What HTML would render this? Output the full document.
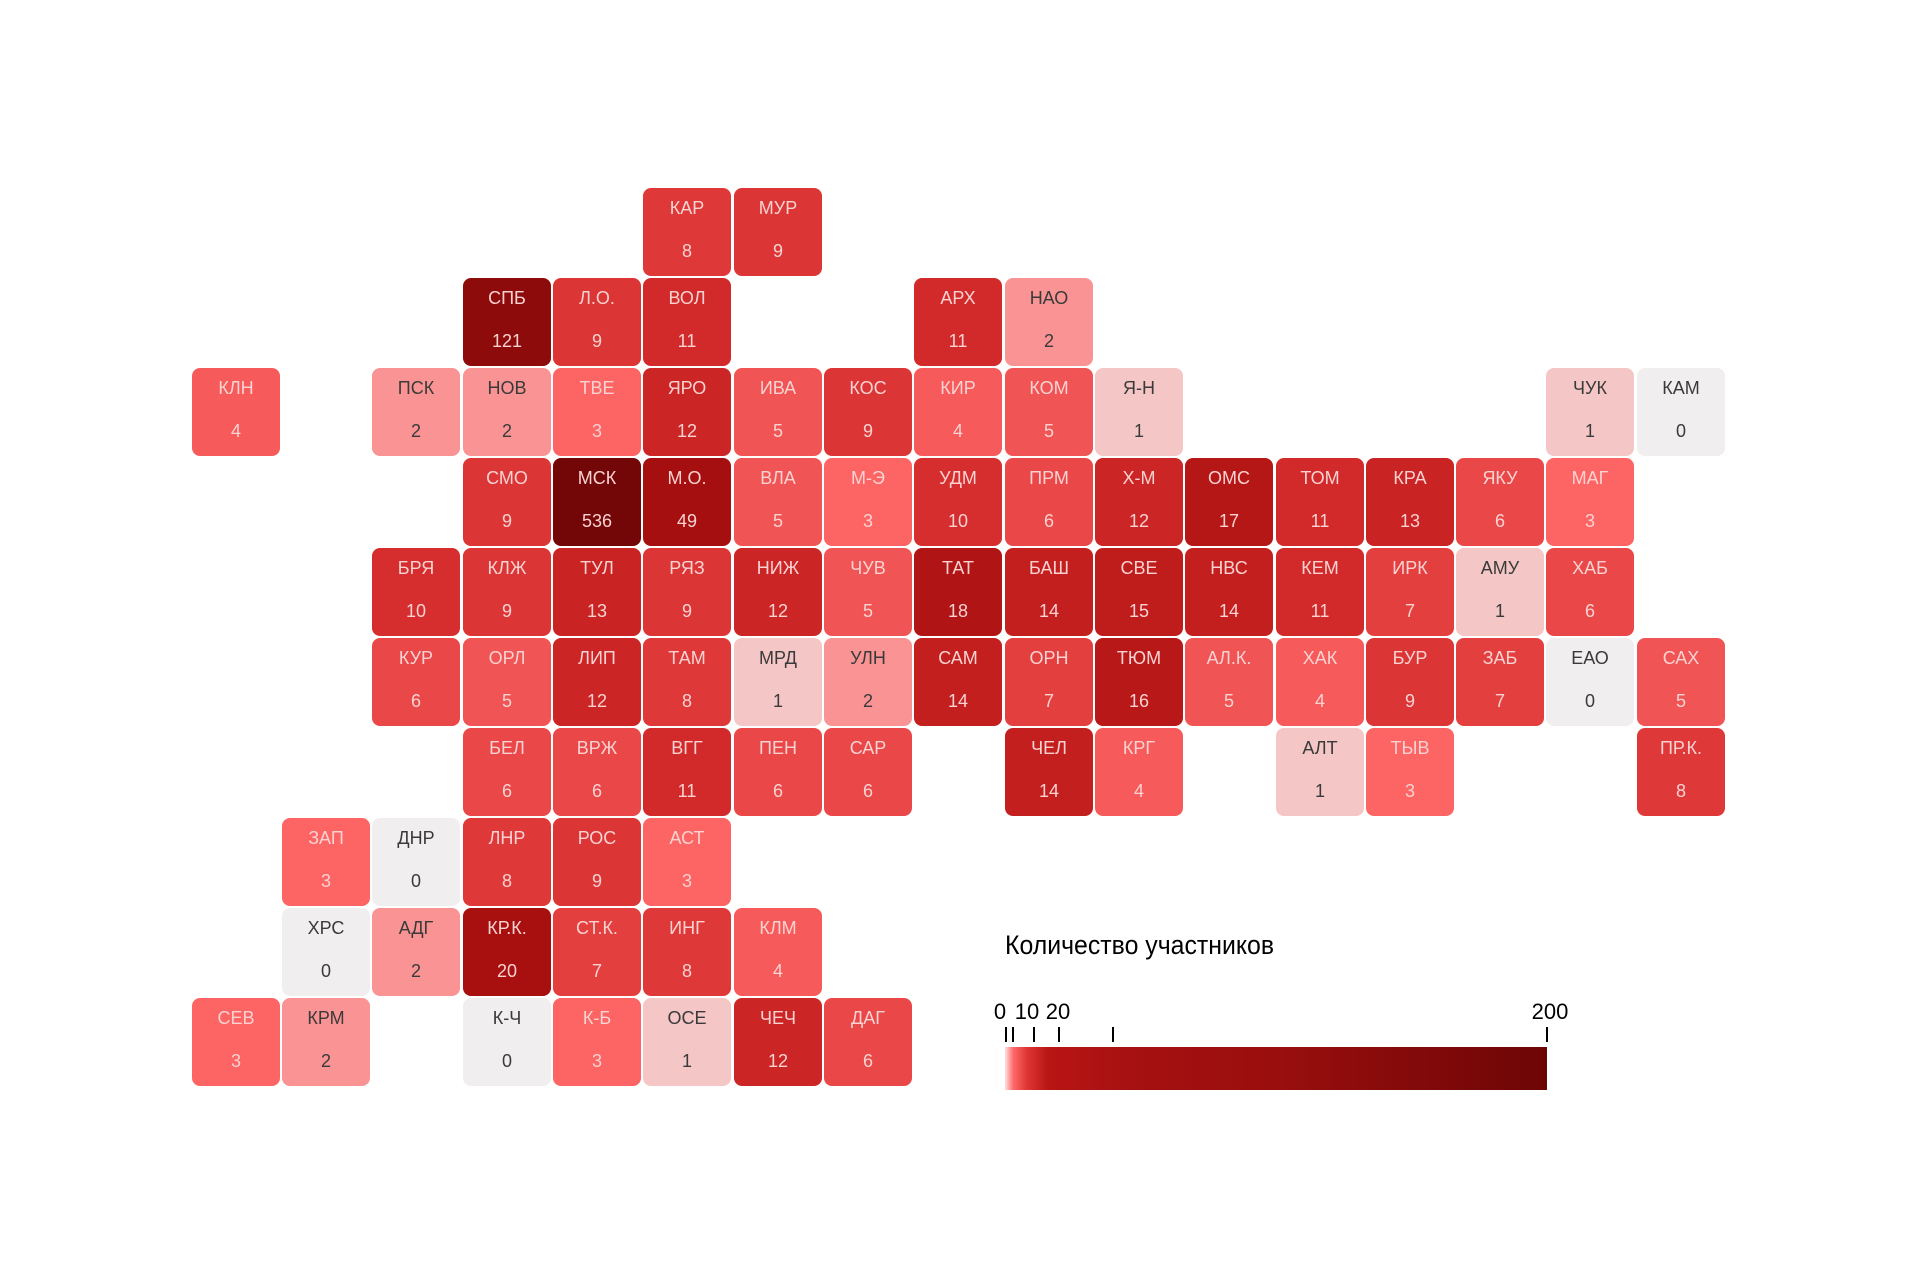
<!DOCTYPE html>
<html><head><meta charset="utf-8"><style>
body{margin:0;width:1920px;height:1279px;background:#fff;position:relative;overflow:hidden;font-family:"Liberation Sans",sans-serif}
.t{position:absolute;width:88px;height:88px;border-radius:8px;color:#fad2d2;font-size:18px;text-align:center}
.t b{position:absolute;left:0;right:0;top:10px;font-weight:normal}
.t i{position:absolute;left:0;right:0;top:53px;font-style:normal}
.d{color:#3a3a3a}
.r0{top:188px}.r1{top:278px}.r2{top:368px}.r3{top:458px}.r4{top:548px}.r5{top:638px}.r6{top:728px}.r7{top:818px}.r8{top:908px}.r9{top:998px}
.c0{left:192px}.c1{left:282px}.c2{left:372px}.c3{left:463px}.c4{left:553px}.c5{left:643px}.c6{left:734px}.c7{left:824px}.c8{left:914px}.c9{left:1005px}.c10{left:1095px}.c11{left:1185px}.c12{left:1276px}.c13{left:1366px}.c14{left:1456px}.c15{left:1546px}.c16{left:1637px}
.v0{background:#f0eeee}.v1{background:#f5c6c6}.v2{background:#fa9393}.v3{background:#fd6464}.v4{background:#f75a5a}.v5{background:#f15454}.v6{background:#ea4848}.v7{background:#e43f3f}.v8{background:#df3838}.v9{background:#dc3535}.v10{background:#d62e2e}.v11{background:#d22a2a}.v12{background:#cc2525}.v13{background:#c92323}.v14{background:#c41f1f}.v15{background:#bf1c1c}.v16{background:#b91818}.v17{background:#b51616}.v18{background:#b01414}.v20{background:#a81010}.v49{background:#a50f0f}.v121{background:#8e0b0b}.v536{background:#730606}
.tk{position:absolute;top:1027px;width:2px;height:15px;background:#000}
.tl{position:absolute;top:999px;font-size:22px;color:#000;transform:translateX(-50%)}
</style></head><body>
<div class="t r0 c5 v8"><b>КАР</b><i>8</i></div>
<div class="t r0 c6 v9"><b>МУР</b><i>9</i></div>
<div class="t r1 c3 v121"><b>СПБ</b><i>121</i></div>
<div class="t r1 c4 v9"><b>Л.О.</b><i>9</i></div>
<div class="t r1 c5 v11"><b>ВОЛ</b><i>11</i></div>
<div class="t r1 c8 v11"><b>АРХ</b><i>11</i></div>
<div class="t r1 c9 v2 d"><b>НАО</b><i>2</i></div>
<div class="t r2 c0 v4"><b>КЛН</b><i>4</i></div>
<div class="t r2 c2 v2 d"><b>ПСК</b><i>2</i></div>
<div class="t r2 c3 v2 d"><b>НОВ</b><i>2</i></div>
<div class="t r2 c4 v3"><b>ТВЕ</b><i>3</i></div>
<div class="t r2 c5 v12"><b>ЯРО</b><i>12</i></div>
<div class="t r2 c6 v5"><b>ИВА</b><i>5</i></div>
<div class="t r2 c7 v9"><b>КОС</b><i>9</i></div>
<div class="t r2 c8 v4"><b>КИР</b><i>4</i></div>
<div class="t r2 c9 v5"><b>КОМ</b><i>5</i></div>
<div class="t r2 c10 v1 d"><b>Я-Н</b><i>1</i></div>
<div class="t r2 c15 v1 d"><b>ЧУК</b><i>1</i></div>
<div class="t r2 c16 v0 d"><b>КАМ</b><i>0</i></div>
<div class="t r3 c3 v9"><b>СМО</b><i>9</i></div>
<div class="t r3 c4 v536"><b>МСК</b><i>536</i></div>
<div class="t r3 c5 v49"><b>М.О.</b><i>49</i></div>
<div class="t r3 c6 v5"><b>ВЛА</b><i>5</i></div>
<div class="t r3 c7 v3"><b>М-Э</b><i>3</i></div>
<div class="t r3 c8 v10"><b>УДМ</b><i>10</i></div>
<div class="t r3 c9 v6"><b>ПРМ</b><i>6</i></div>
<div class="t r3 c10 v12"><b>Х-М</b><i>12</i></div>
<div class="t r3 c11 v17"><b>ОМС</b><i>17</i></div>
<div class="t r3 c12 v11"><b>ТОМ</b><i>11</i></div>
<div class="t r3 c13 v13"><b>КРА</b><i>13</i></div>
<div class="t r3 c14 v6"><b>ЯКУ</b><i>6</i></div>
<div class="t r3 c15 v3"><b>МАГ</b><i>3</i></div>
<div class="t r4 c2 v10"><b>БРЯ</b><i>10</i></div>
<div class="t r4 c3 v9"><b>КЛЖ</b><i>9</i></div>
<div class="t r4 c4 v13"><b>ТУЛ</b><i>13</i></div>
<div class="t r4 c5 v9"><b>РЯЗ</b><i>9</i></div>
<div class="t r4 c6 v12"><b>НИЖ</b><i>12</i></div>
<div class="t r4 c7 v5"><b>ЧУВ</b><i>5</i></div>
<div class="t r4 c8 v18"><b>ТАТ</b><i>18</i></div>
<div class="t r4 c9 v14"><b>БАШ</b><i>14</i></div>
<div class="t r4 c10 v15"><b>СВЕ</b><i>15</i></div>
<div class="t r4 c11 v14"><b>НВС</b><i>14</i></div>
<div class="t r4 c12 v11"><b>КЕМ</b><i>11</i></div>
<div class="t r4 c13 v7"><b>ИРК</b><i>7</i></div>
<div class="t r4 c14 v1 d"><b>АМУ</b><i>1</i></div>
<div class="t r4 c15 v6"><b>ХАБ</b><i>6</i></div>
<div class="t r5 c2 v6"><b>КУР</b><i>6</i></div>
<div class="t r5 c3 v5"><b>ОРЛ</b><i>5</i></div>
<div class="t r5 c4 v12"><b>ЛИП</b><i>12</i></div>
<div class="t r5 c5 v8"><b>ТАМ</b><i>8</i></div>
<div class="t r5 c6 v1 d"><b>МРД</b><i>1</i></div>
<div class="t r5 c7 v2 d"><b>УЛН</b><i>2</i></div>
<div class="t r5 c8 v14"><b>САМ</b><i>14</i></div>
<div class="t r5 c9 v7"><b>ОРН</b><i>7</i></div>
<div class="t r5 c10 v16"><b>ТЮМ</b><i>16</i></div>
<div class="t r5 c11 v5"><b>АЛ.К.</b><i>5</i></div>
<div class="t r5 c12 v4"><b>ХАК</b><i>4</i></div>
<div class="t r5 c13 v9"><b>БУР</b><i>9</i></div>
<div class="t r5 c14 v7"><b>ЗАБ</b><i>7</i></div>
<div class="t r5 c15 v0 d"><b>ЕАО</b><i>0</i></div>
<div class="t r5 c16 v5"><b>САХ</b><i>5</i></div>
<div class="t r6 c3 v6"><b>БЕЛ</b><i>6</i></div>
<div class="t r6 c4 v6"><b>ВРЖ</b><i>6</i></div>
<div class="t r6 c5 v11"><b>ВГГ</b><i>11</i></div>
<div class="t r6 c6 v6"><b>ПЕН</b><i>6</i></div>
<div class="t r6 c7 v6"><b>САР</b><i>6</i></div>
<div class="t r6 c9 v14"><b>ЧЕЛ</b><i>14</i></div>
<div class="t r6 c10 v4"><b>КРГ</b><i>4</i></div>
<div class="t r6 c12 v1 d"><b>АЛТ</b><i>1</i></div>
<div class="t r6 c13 v3"><b>ТЫВ</b><i>3</i></div>
<div class="t r6 c16 v8"><b>ПР.К.</b><i>8</i></div>
<div class="t r7 c1 v3"><b>ЗАП</b><i>3</i></div>
<div class="t r7 c2 v0 d"><b>ДНР</b><i>0</i></div>
<div class="t r7 c3 v8"><b>ЛНР</b><i>8</i></div>
<div class="t r7 c4 v9"><b>РОС</b><i>9</i></div>
<div class="t r7 c5 v3"><b>АСТ</b><i>3</i></div>
<div class="t r8 c1 v0 d"><b>ХРС</b><i>0</i></div>
<div class="t r8 c2 v2 d"><b>АДГ</b><i>2</i></div>
<div class="t r8 c3 v20"><b>КР.К.</b><i>20</i></div>
<div class="t r8 c4 v7"><b>СТ.К.</b><i>7</i></div>
<div class="t r8 c5 v8"><b>ИНГ</b><i>8</i></div>
<div class="t r8 c6 v4"><b>КЛМ</b><i>4</i></div>
<div class="t r9 c0 v3"><b>СЕВ</b><i>3</i></div>
<div class="t r9 c1 v2 d"><b>КРМ</b><i>2</i></div>
<div class="t r9 c3 v0 d"><b>К-Ч</b><i>0</i></div>
<div class="t r9 c4 v3"><b>К-Б</b><i>3</i></div>
<div class="t r9 c5 v1 d"><b>ОСЕ</b><i>1</i></div>
<div class="t r9 c6 v12"><b>ЧЕЧ</b><i>12</i></div>
<div class="t r9 c7 v6"><b>ДАГ</b><i>6</i></div>

<div style="position:absolute;left:1005px;top:930px;font-size:27px;color:#000;transform:scaleX(0.92);transform-origin:left">Количество участников</div>
<div class="tl" style="left:1000px">0</div>
<div class="tl" style="left:1027px">10</div>
<div class="tl" style="left:1058px">20</div>
<div class="tl" style="left:1550px">200</div>
<div class="tk" style="left:1005px"></div>
<div class="tk" style="left:1012px"></div>
<div class="tk" style="left:1033px"></div>
<div class="tk" style="left:1058px"></div>
<div class="tk" style="left:1112px"></div>
<div class="tk" style="left:1546px"></div>
<div style="position:absolute;left:1005px;top:1047px;width:542px;height:43px;background:linear-gradient(to right,#fde0e0 0%,#ff6a6a 1.5%,#e03535 4%,#b81515 8%,#a51010 25%,#9a0e0e 50%,#840a0a 75%,#6e0505 100%)"></div>
</body></html>
